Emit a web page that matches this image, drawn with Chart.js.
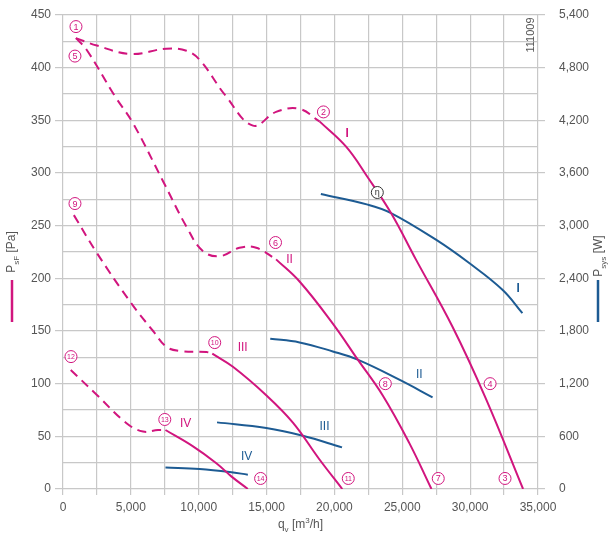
<!DOCTYPE html>
<html>
<head>
<meta charset="utf-8">
<script src="https://cdn.jsdelivr.net/npm/chart.js@4/dist/chart.umd.min.js"></script>
<style>
  html, body { margin: 0; padding: 0; background: #fff; }
  #wrap { width: 616px; height: 539px; position: relative; }
</style>
</head>
<body>
<div id="wrap"><canvas id="fanChart"></canvas></div>
<script>
// Kennlinien Druck (Pa) - gestrichelt = instabiler Bereich
const p1DashX = [950, 2500, 5000, 7600, 9100, 10100, 12000, 14000, 15700, 17400, 18900];
const p1DashY = [428, 421, 413, 418, 416, 407, 373, 345, 358, 361, 349];
const p1SolidX = [18900, 20860, 22450, 24170, 26000, 28700, 31150, 33900];
const p1SolidY = [349, 325, 296, 262, 218, 154, 86, 0];

const p2DashX = [950, 1740, 3820, 5170, 7380, 9100, 10300, 11540, 13000, 14240, 15700];
const p2DashY = [428, 417, 373, 347, 292, 249, 226, 221, 229, 229, 218];
const p2SolidX = [15700, 17430, 19880, 21710, 23550, 25500, 27150];
const p2SolidY = [218, 197, 157, 123, 89, 44, 0];

const p3DashX = [800, 2500, 5050, 6640, 7620, 8600, 10570, 11000];
const p3DashY = [260, 224, 176, 150, 135, 131, 130, 128.5];
const p3SolidX = [11000, 12520, 14975, 16940, 18900, 20580];
const p3SolidY = [128.5, 116, 89, 63, 28, 0];

const p4DashX = [570, 2480, 4680, 5900, 7000, 7550];
const p4DashY = [113, 89.5, 62.5, 54.5, 56, 56];
const p4SolidX = [7550, 9580, 11300, 12400, 13620];
const p4SolidY = [56, 40.5, 24.5, 12, 0];

// Leistungsaufnahme (W)
const w1X = [19000, 22450, 24170, 27480, 29930, 32380, 33850];
const w1Y = [3360, 3240, 3144, 2840, 2574, 2270, 2004];
const w2X = [15270, 17430, 19880, 21710, 24780, 27230];
const w2Y = [1712, 1670, 1567, 1473, 1245, 1044];
const w3X = [11350, 14975, 17670, 20560];
const w3Y = [759, 695, 607, 474];
const w4X = [7550, 10070, 12280, 13620];
const w4Y = [246, 228, 194, 163];

// Betriebspunkte (Kreise)
const markText = ['1', '5', '2', '\u03B7', '6', '9', '10', '12', '13', '14', '11', '8', '7', '4', '3'];
const markX = [956, 882, 19190, 23160, 15660, 882, 11180, 588, 7500, 14560, 21020, 23750, 27650, 31470, 32570];
const markY = [439, 411, 358, 281.5, 234, 271, 139, 125.7, 66, 10, 10, 100, 10, 100, 10];

// Drehzahlstufen
const stageText = ['I', 'II', 'III', 'IV'];
const stagePX = [20930, 16690, 13240, 9040];
const stagePY = [337, 218, 134, 62];
const stageWX = [33530, 26250, 19270, 13530];
const stageWY = [2280, 1303, 708, 368];

const MAGENTA = '#d1157e';
const BLUE = '#1d5b93';
const GRID = '#c8c8c8';
const TXT = '#555555';
const FONT = '"Liberation Sans", Arial, sans-serif';

function pts(xs, ys) {
    return xs.map((x, i) => ({ x: x, y: ys[i] }));
}

function curve(xs, ys, color, dashed, axis) {
    return {
        data: pts(xs, ys),
        borderColor: color,
        borderWidth: 2,
        borderDash: dashed ? [9, 6] : [],
        pointRadius: 0,
        showLine: true,
        fill: false,
        tension: 0.4,
        yAxisID: axis
    };
}

const datasets = [
    curve(p1DashX, p1DashY, MAGENTA, true, 'y'),
    curve(p1SolidX, p1SolidY, MAGENTA, false, 'y'),
    curve(p2DashX, p2DashY, MAGENTA, true, 'y'),
    curve(p2SolidX, p2SolidY, MAGENTA, false, 'y'),
    curve(p3DashX, p3DashY, MAGENTA, true, 'y'),
    curve(p3SolidX, p3SolidY, MAGENTA, false, 'y'),
    curve(p4DashX, p4DashY, MAGENTA, true, 'y'),
    curve(p4SolidX, p4SolidY, MAGENTA, false, 'y'),
    curve(w1X, w1Y, BLUE, false, 'y1'),
    curve(w2X, w2Y, BLUE, false, 'y1'),
    curve(w3X, w3Y, BLUE, false, 'y1'),
    curve(w4X, w4Y, BLUE, false, 'y1')
];

// Text mit tief-/hochgestellten Teilen zeichnen, parts = [[text, 'n'|'sub'|'sup'], ...]
function richWidth(ctx, parts, size) {
    let w = 0;
    parts.forEach(p => {
        ctx.font = (p[1] === 'n' ? size : Math.round(size * 0.65)) + 'px ' + FONT;
        w += ctx.measureText(p[0]).width;
    });
    return w;
}
function richText(ctx, parts, x, y, size) {
    let cx = x;
    parts.forEach(p => {
        const small = p[1] !== 'n';
        ctx.font = (small ? Math.round(size * 0.65) : size) + 'px ' + FONT;
        let dy = 0;
        if (p[1] === 'sub') dy = size * 0.3;
        if (p[1] === 'sup') dy = -size * 0.45;
        ctx.fillText(p[0], cx, y + dy);
        cx += ctx.measureText(p[0]).width;
    });
}

const decorPlugin = {
    id: 'decor',
    afterDatasetsDraw(chart) {
        const ctx = chart.ctx;
        const sx = chart.scales.x, sy = chart.scales.y, sw = chart.scales.y1;
        ctx.save();

        // Kreise mit Nummern
        markText.forEach((t, i) => {
            const px = sx.getPixelForValue(markX[i]);
            const py = sy.getPixelForValue(markY[i]);
            const col = t === '\u03B7' ? '#333333' : MAGENTA;
            ctx.beginPath();
            ctx.arc(px, py, 6, 0, Math.PI * 2);
            ctx.fillStyle = '#fff';
            ctx.fill();
            ctx.lineWidth = 1;
            ctx.strokeStyle = col;
            ctx.stroke();
            ctx.fillStyle = col;
            ctx.font = (t.length > 1 ? 7 : 9) + 'px ' + FONT;
            ctx.textAlign = 'center';
            ctx.textBaseline = 'middle';
            ctx.fillText(t, px, py + 0.5);
        });

        // Drehzahlstufen
        stageText.forEach((t, i) => {
            ctx.textAlign = 'center';
            ctx.textBaseline = 'middle';
            ctx.font = (t === 'I' ? 'bold ' : '') + '12px ' + FONT;
            ctx.fillStyle = MAGENTA;
            ctx.fillText(t, sx.getPixelForValue(stagePX[i]), sy.getPixelForValue(stagePY[i]));
            ctx.fillStyle = BLUE;
            ctx.fillText(t, sx.getPixelForValue(stageWX[i]), sw.getPixelForValue(stageWY[i]));
        });
        ctx.restore();
    },
    afterDraw(chart) {
        const ctx = chart.ctx;
        const area = chart.chartArea;
        ctx.save();
        ctx.fillStyle = TXT;
        ctx.textBaseline = 'alphabetic';
        ctx.textAlign = 'left';

        // x-Achsentitel
        const xt = [['q', 'n'], ['v', 'sub'], [' [m', 'n'], ['3', 'sup'], ['/h]', 'n']];
        const xw = richWidth(ctx, xt, 12);
        richText(ctx, xt, (area.left + area.right) / 2 - xw / 2, 528, 12);

        // linke Achse
        const lt = [['P', 'n'], ['sF', 'sub'], [' [Pa]', 'n']];
        const lw = richWidth(ctx, lt, 12);
        ctx.save();
        ctx.translate(15, 252);
        ctx.rotate(-Math.PI / 2);
        richText(ctx, lt, -lw / 2, 0, 12);
        ctx.restore();
        ctx.strokeStyle = MAGENTA;
        ctx.lineWidth = 2.5;
        ctx.beginPath();
        ctx.moveTo(12, 280);
        ctx.lineTo(12, 322);
        ctx.stroke();

        // rechte Achse
        const rt = [['P', 'n'], ['sys', 'sub'], [' [W]', 'n']];
        const rw = richWidth(ctx, rt, 12);
        ctx.save();
        ctx.translate(602, 256);
        ctx.rotate(-Math.PI / 2);
        richText(ctx, rt, -rw / 2, 0, 12);
        ctx.restore();
        ctx.strokeStyle = BLUE;
        ctx.beginPath();
        ctx.moveTo(598, 280);
        ctx.lineTo(598, 322);
        ctx.stroke();

        // Kennnummer
        ctx.save();
        ctx.translate(534, 35);
        ctx.rotate(-Math.PI / 2);
        ctx.font = '11px ' + FONT;
        ctx.textAlign = 'center';
        ctx.fillText('111009', 0, 0);
        ctx.restore();
        ctx.restore();
    }
};

const fmt = v => v.toLocaleString('en-US');
const tickFont = { family: FONT, size: 12 };

// Beschriftungsabstand soll die Zeichenfläche nicht nach unten schieben
function fixVertical(width) {
    return s => {
        s.width = width;
        s.paddingTop = 7;
        s.paddingBottom = 7;
    };
}

new Chart(document.getElementById('fanChart').getContext('2d'), {
    type: 'scatter',
    data: { datasets: datasets },
    options: {
        responsive: true,
        maintainAspectRatio: false,
        animation: false,
        layout: { padding: { top: 15, left: 0, right: 0, bottom: 0 } },
        plugins: { legend: { display: false }, tooltip: { enabled: false } },
        scales: {
            x: {
                type: 'linear',
                min: 0,
                max: 35000,
                ticks: {
                    stepSize: 2500,
                    autoSkip: false,
                    maxRotation: 0,
                    color: TXT,
                    font: tickFont,
                    padding: 5,
                    callback: v => (v % 5000 === 0 ? fmt(v) : '')
                },
                grid: { color: GRID, lineWidth: 1.2, tickLength: 6, tickColor: GRID },
                border: { display: false },
                afterFit: s => { s.height = 50; }
            },
            y: {
                position: 'left',
                min: 0,
                max: 450,
                ticks: {
                    stepSize: 25,
                    autoSkip: false,
                    color: TXT,
                    font: tickFont,
                    padding: 4,
                    callback: v => (v % 50 === 0 ? String(v) : '')
                },
                grid: {
                    color: GRID,
                    lineWidth: 1.2,
                    tickLength: 8,
                    tickColor: c => (c.tick && c.tick.value % 50 === 0 ? GRID : 'rgba(0,0,0,0)')
                },
                border: { display: false },
                afterFit: fixVertical(63)
            },
            y1: {
                position: 'right',
                min: 0,
                max: 5400,
                ticks: {
                    stepSize: 300,
                    autoSkip: false,
                    color: TXT,
                    font: tickFont,
                    padding: 14,
                    callback: v => (v % 600 === 0 ? fmt(v) : '')
                },
                grid: {
                    drawOnChartArea: false,
                    color: GRID,
                    lineWidth: 1.2,
                    tickLength: 7,
                    tickColor: c => (c.tick && c.tick.value % 600 === 0 ? GRID : 'rgba(0,0,0,0)')
                },
                border: { display: false },
                afterFit: fixVertical(78)
            }
        }
    },
    plugins: [decorPlugin]
});
</script>
</body>
</html>
